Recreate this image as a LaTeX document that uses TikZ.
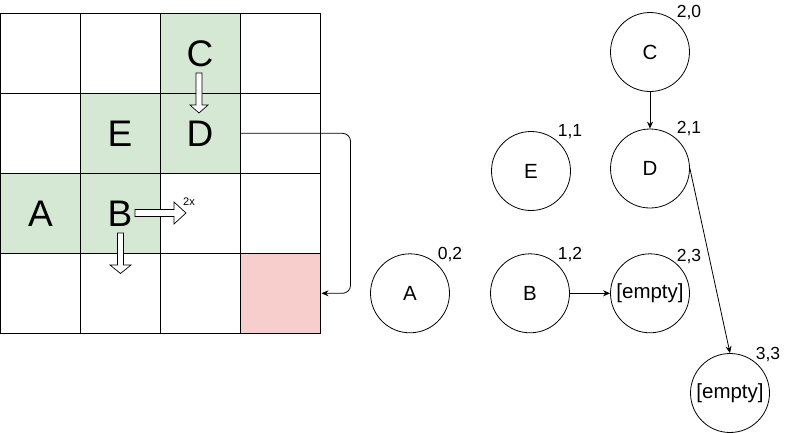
\documentclass[tikz,border=0pt]{standalone}
\usepackage{fontspec}
\setmainfont{Liberation Sans}
\usetikzlibrary{arrows.meta}
\definecolor{gfill}{HTML}{D5E8D4}
\definecolor{rfill}{HTML}{F8CECC}
\begin{document}
\begin{tikzpicture}[x=1pt,y=-1pt,
  cell/.style={draw=black, line width=1pt, minimum size=80pt, inner sep=0pt, anchor=center, font=\fontsize{37}{40}\selectfont},
  green/.style={fill=gfill},
  red/.style={fill=rfill},
  hollow/.style={draw=black, fill=white, line width=0.7pt, line join=miter},
  vert/.style={draw=black, circle, line width=0.8pt, minimum size=79pt, inner sep=0pt, font=\fontsize{20.5}{22}\selectfont},
  lab/.style={font=\fontsize{17.5}{19}\selectfont, inner sep=0pt},
  conn/.style={draw=black, line width=0.8pt, -{Stealth[length=7pt,width=6pt]}}]
\useasboundingbox (0,0) rectangle (791,432);
% grid cells
\node[cell] (c00) at (40.5,53.3) {};
\node[cell] (c10) at (120,53.3) {};
\node[cell, green] (c20) at (200,53.3) {C};
\node[cell] (c30) at (280,53.3) {};
\node[cell] (c01) at (40.5,133.3) {};
\node[cell, green] (c11) at (120,133.3) {E};
\node[cell, green] (c21) at (200,133.3) {D};
\node[cell] (c31) at (280,133.3) {};
\node[cell, green] (c02) at (40.5,213.3) {A};
\node[cell, green] (c12) at (120,213.3) {B};
\node[cell] (c22) at (200,213.3) {};
\node[cell] (c32) at (280,213.3) {};
\node[cell] (c03) at (40.5,293.3) {};
\node[cell] (c13) at (120,293.3) {};
\node[cell] (c23) at (200,293.3) {};
\node[cell, red] (c33) at (280,293.3) {};
% hollow arrows
\draw[hollow] (196,73) -- (202,73) -- (202,105) -- (208,105) -- (199,113) -- (190,105) -- (196,105) -- cycle;
\draw[hollow] (135,209.5) -- (174,209.5) -- (174,202) -- (186,213) -- (174,224) -- (174,216.5) -- (135,216.5) -- cycle;
\draw[hollow] (117.5,233) -- (123.5,233) -- (123.5,265) -- (131,265) -- (120.5,273.5) -- (110,265) -- (117.5,265) -- cycle;
\node[font=\fontsize{11}{12}\selectfont, inner sep=0pt] (twox) at (189,202) {2x};
% connector in grid
\draw[conn, rounded corners=8pt] (c21.east) -- ++(110,0) |- ([xshift=1pt]c33.east);
% circles
\node[vert] (C) at (650,52) {C};
\node[vert] (D) at (650,168.5) {D};
\node[vert] (E) at (531,171) {E};
\node[vert] (A) at (410,293.3) {A};
\node[vert] (B) at (530,293.3) {B};
\node[vert] (e23) at (650,293.3) {[empty]};
\node[vert] (e33) at (730,393) {[empty]};
\node[lab] (lC) at (689,13) {2,0};
\node[lab] (lD) at (689,129) {2,1};
\node[lab] (lE) at (570,132) {1,1};
\node[lab] (lA) at (450,255) {0,2};
\node[lab] (lB) at (570,255) {1,2};
\node[lab] (l23) at (689,257) {2,3};
\node[lab] (l33) at (768,354) {3,3};
\draw[conn] (C) -- (D);
\draw[conn] (B) -- (e23);
\draw[conn] (D.east) -- (e33.north);
\end{tikzpicture}
\end{document}
